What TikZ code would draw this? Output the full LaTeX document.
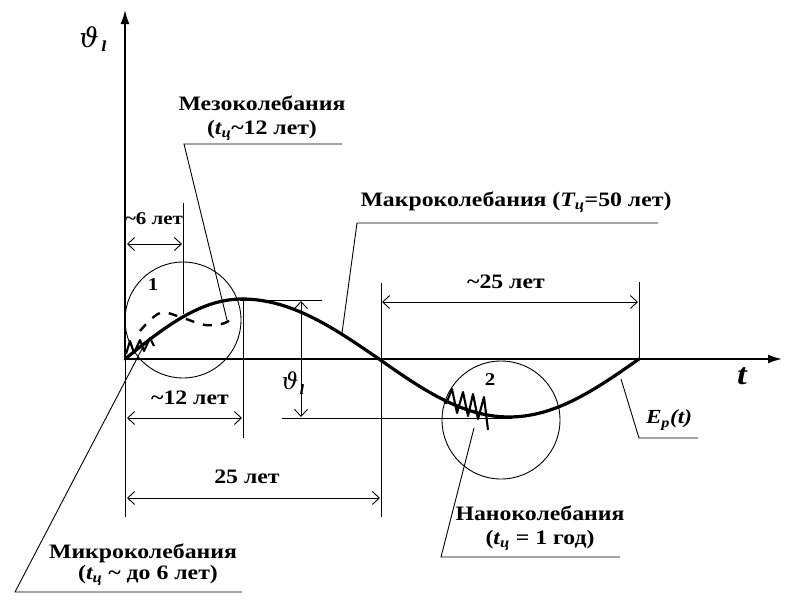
\documentclass[tikz,border=0pt]{standalone}
\usepackage{fontspec}
\setmainfont{Liberation Serif}[FakeStretch=1.16]
\newfontfamily\dvs{DejaVu Serif}
\usetikzlibrary{arrows.meta}
\newcommand\tsub[1]{{\itshape #1}\textsubscript{\itshape ц}}
\begin{document}
\begin{tikzpicture}[x=1pt,y=-1pt,
  lbl/.style={font=\fontsize{20.5}{22}\selectfont\bfseries, inner sep=0pt, anchor=center},
  fine/.style={line width=0.9pt},
  dimline/.style={line width=0.9pt, <->, >={Straight Barb[length=7pt,width=13pt,line width=0.9pt]}},
  axisarr/.style={line width=1.7pt, -{Latex[length=14pt,width=9pt]}},
  curve/.style={line width=3.2pt, line cap=round, line join=round},
  osc/.style={line width=2.1pt, line join=round},
]
\useasboundingbox (0,0) rectangle (807,614);

% axes
\coordinate (O) at (125,359);
\coordinate (ytop) at (125,10);
\coordinate (ybot) at (125,517);
\coordinate (xend) at (782,359);
\draw[axisarr] (O) -- (ytop);
\draw[axisarr] (O) -- (xend);
\draw[fine] (O) -- (ybot);
\node[font=\fontsize{27}{27}\selectfont\dvs\itshape, inner sep=0pt] (ylab) at (89,37) {ϑ};
\node[font=\fontsize{14}{14}\selectfont\dvs\bfseries\itshape, inner sep=0pt] (ylabsub) at (104,46) {l};
\node[font=\fontsize{30}{30}\selectfont\bfseries\itshape, inner sep=0pt] (tlab) at (742,376) {t};

% main curve E_p(t)
\draw[curve] plot[domain=125:242, samples=30] (\x, {359-60*sin(0.76923*(\x-125))})
  -- plot[domain=242:379, samples=30] (\x, {359-60*cos(0.65693*(\x-242))})
  -- plot[domain=379:639, samples=50] (\x, {359+58*sin(0.69231*(\x-379))});

% meso (dashed)
\draw[line width=2.4pt, dash pattern=on 9pt off 9pt] plot[smooth, tension=0.6] coordinates {(140,331) (160,313) (183,318) (205,325) (225,323) (234,315)};

% micro oscillation
\draw[osc] (126,354) -- (130,341) -- (134,353) -- (140,340) -- (144,351) -- (150,338) -- (154,346);

% nano oscillation
\draw[osc] (446,404) -- (452,389) -- (457,413) -- (463,392) -- (468,416) -- (473,394) -- (478,419) -- (484,397) -- (488,430);

% circles
\coordinate (c1) at (183,320);
\coordinate (c2) at (501,420);
\draw[fine] (c1) circle[radius=58];
\draw[fine] (c2) circle[radius=59];
\node[lbl, font=\fontsize{18}{18}\selectfont\bfseries] (one) at (153,285) {1};
\node[lbl, font=\fontsize{18}{18}\selectfont\bfseries] (two) at (490,380) {2};

% extension lines
\coordinate (e6t) at (183,203);   \coordinate (e6b) at (183,314);
\coordinate (e12t) at (243,300);  \coordinate (e12b) at (243,438);
\coordinate (e25t) at (381,283);  \coordinate (e25b) at (381,517);
\coordinate (e50t) at (639,282);  \coordinate (e50b) at (639,360);
\draw[fine] (e6t) -- (e6b);
\draw[fine] (e12t) -- (e12b);
\draw[fine] (e25t) -- (e25b);
\draw[fine] (e50t) -- (e50b);

% level lines and amplitude
\coordinate (lt1) at (240,300); \coordinate (lt2) at (322,300);
\coordinate (lb1) at (282,418); \coordinate (lb2) at (512,418);
\draw[fine] (lt1) -- (lt2);
\draw[fine] (lb1) -- (lb2);
\coordinate (amt) at (301,301); \coordinate (amb) at (301,417);
\draw[dimline] (amt) -- (amb);
\node[font=\fontsize{23}{23}\selectfont\dvs\itshape, inner sep=0pt] (amlab) at (290,381) {ϑ};
\node[font=\fontsize{13}{13}\selectfont\dvs\bfseries\itshape, inner sep=0pt] (amlabsub) at (302,390) {l};

% dimension arrows
\coordinate (d6a) at (127,244);  \coordinate (d6b) at (182,244);
\coordinate (d12a) at (127,418); \coordinate (d12b) at (242,418);
\coordinate (d25a) at (127,498); \coordinate (d25b) at (380,498);
\coordinate (dd25a) at (382,302); \coordinate (dd25b) at (638,302);
\draw[dimline] (d6a) -- (d6b);
\draw[dimline] (d12a) -- (d12b);
\draw[dimline] (d25a) -- (d25b);
\draw[dimline] (dd25a) -- (dd25b);
\node[lbl, font=\fontsize{18}{18}\selectfont\bfseries] (l6) at (154,219) {\textasciitilde6 лет};
\node[lbl] (l12) at (190,398) {\textasciitilde12 лет};
\node[lbl] (l25) at (247,477) {25 лет};
\node[lbl] (ll25) at (506,282) {\textasciitilde25 лет};

% Meso label
\node[lbl] (meso1) at (262,103) {Мезоколебания};
\node[lbl] (meso2) at (262,130) {(\tsub{t}\textasciitilde12 лет)};
\coordinate (mesoA) at (184,144); \coordinate (mesoB) at (342,144);
\coordinate (mesoT) at (227,320);
\draw[fine] (mesoB) -- (mesoA) -- (mesoT);

% Macro label
\node[lbl] (macro) at (516,202) {Макроколебания (\tsub{T}=50 лет)};
\coordinate (macA) at (357,223); \coordinate (macB) at (658,223);
\coordinate (macT) at (342,333);
\draw[fine] (macB) -- (macA) -- (macT);

% E_p(t) label
\node[lbl, font=\fontsize{20}{20}\selectfont\bfseries\itshape] (ep) at (669,420) {E\textsubscript{p}(t)};
\coordinate (epA) at (639,438); \coordinate (epB) at (698,438);
\coordinate (epT) at (621,379);
\draw[fine] (epB) -- (epA) -- (epT);

% Nano label
\node[lbl] (nano1) at (540,513) {Наноколебания};
\node[lbl] (nano2) at (540,540) {(\tsub{t} = 1 год)};
\coordinate (nanA) at (441,557); \coordinate (nanB) at (620,557);
\coordinate (nanT) at (474,428);
\draw[fine] (nanB) -- (nanA) -- (nanT);

% Micro label
\node[lbl] (micro1) at (143,553) {Микроколебания};
\node[lbl] (micro2) at (148,575) {(\tsub{t} \textasciitilde{} до 6 лет)};
\coordinate (micA) at (15,592); \coordinate (micB) at (242,592);
\coordinate (micT) at (143,347);
\draw[fine] (micB) -- (micA) -- (micT);
\end{tikzpicture}
\end{document}
